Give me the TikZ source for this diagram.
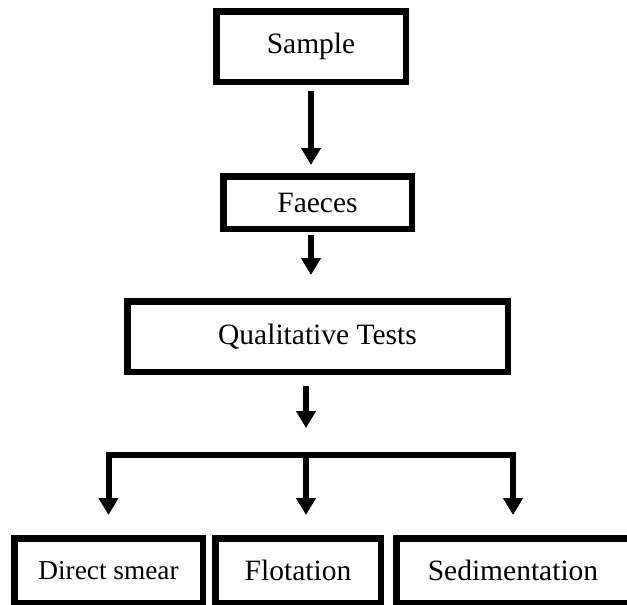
\documentclass[tikz,border=0pt]{standalone}
\usepackage{fontspec}
\setmainfont{Liberation Serif}
\usetikzlibrary{arrows.meta}

\begin{document}
\begin{tikzpicture}[x=1pt,y=-1pt,
    caja/.style={draw,line width=6.5pt,inner sep=0pt,font=\fontsize{29.5}{34}\selectfont},
    flecha/.style={line width=6pt,-{Triangle[width=19pt,length=17pt]}}]

    \useasboundingbox (0,0) rectangle (627,605);

    \node[caja,minimum width=189.5pt,minimum height=70.5pt] (sample) at (311,46.5) {Sample};
    \node[caja,minimum width=188.5pt,minimum height=52.5pt] (faeces) at (317.5,202.5) {Faeces};
    \node[caja,minimum width=380.5pt,minimum height=70.5pt] (qt) at (317.5,336.5) {Qualitative Tests};
    \node[caja,minimum width=188.5pt,minimum height=64.5pt,font=\fontsize{27.3}{32}\selectfont] (ds) at (108.5,570.5) {Direct smear};
    \node[caja,minimum width=165.5pt,minimum height=64.5pt] (flo) at (298,570.5) {Flotation};
    \node[caja,minimum width=233.5pt,minimum height=64.5pt] (sed) at (513,570.5) {Sedimentation};

    \coordinate (rama) at (306,455);

    \draw[flecha,shorten <=6pt,shorten >=8pt] (sample.south) -- (sample.south |- faeces.north);
    \draw[flecha,shorten <=3pt,shorten >=23pt] (sample.south |- faeces.south) -- (sample.south |- qt.north);
    \draw[flecha,shorten <=11pt,shorten >=27pt] (rama |- qt.south) -- (rama);
    \draw[flecha,shorten >=20pt] (rama) -| (ds.north);
    \draw[flecha,shorten >=20pt] (rama) -- (rama |- flo.north);
    \draw[flecha,shorten >=20pt] (rama) -| (sed.north);
\end{tikzpicture}
\end{document}
